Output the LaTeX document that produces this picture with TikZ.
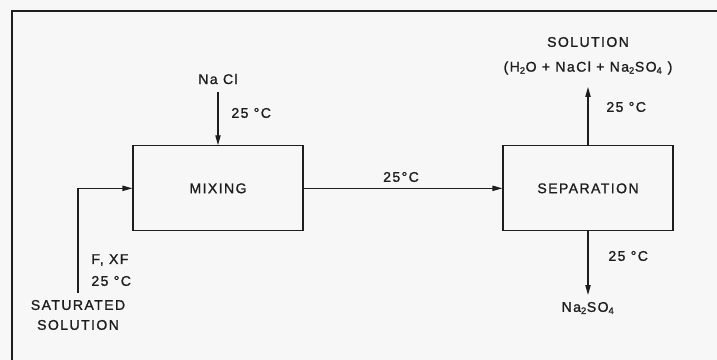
\documentclass[tikz,border=0pt]{standalone}
\usepackage{fontspec}
\setmainfont[LetterSpace=10,FakeBold=1.2]{Liberation Sans}
\usepackage{xcolor}
\usetikzlibrary{arrows.meta}
\definecolor{PFInk}{HTML}{1E1E1E}
\definecolor{PFPaper}{HTML}{F7F7F7}

\begin{document}
\begin{tikzpicture}[x=1cm,y=1cm,
  unit/.style={draw=PFInk,line width=1pt,minimum width=5.10cm,minimum height=2.55cm,font=\fontsize{12}{14}\selectfont,text=PFInk},
  flow/.style={draw=PFInk,line width=1pt,-{Triangle[length=8.5pt,width=4.5pt]}},
  lbl/.style={font=\fontsize{12}{17}\selectfont,text=PFInk,inner sep=1pt}]
\path[use as bounding box,fill=PFPaper] (0,0) rectangle (21.51,10.80);
\draw[PFInk,line width=1pt] (0.36,0) -- (0.36,10.47) -- (21.51,10.47);
% process units
\node[unit] (mix) at (6.54,5.15) {MIXING};
\node[unit] (sep) at (17.64,5.15) {SEPARATION};
% salt feed
\node[lbl] (nacl) at (6.54,8.43) {Na Cl};
\coordinate (naclin) at (6.54,8.04);
\draw[flow] (naclin) -- (mix.north);
\node[lbl,anchor=west] (tnacl) at (6.90,7.41) {25 °C};
% saturated solution feed
\coordinate (feedin) at (2.34,2.01);
\draw[flow] (feedin) |- (mix.west);
\node[lbl,anchor=west] (fxf) at (2.70,3.00) {F, XF};
\node[lbl,anchor=west] (tfeed) at (2.70,2.37) {25 °C};
\node[lbl,align=center] (sat) at (2.34,1.35) {SATURATED\\SOLUTION};
% mixer to separator
\draw[flow] (mix.east) -- (sep.west);
\node[lbl] (tmid) at (12.03,5.49) {25°C};
% solution out
\coordinate (solout) at (17.64,8.19);
\draw[flow] (sep.north) -- (solout);
\node[lbl,anchor=west] (tsol) at (18.15,7.59) {25 °C};
\node[lbl] (sol) at (17.64,9.54) {SOLUTION};
\node[lbl] (solmix) at (17.64,8.76) {(H\textsubscript{2}O + NaCl + Na\textsubscript{2}SO\textsubscript{4} )};
% crystals out
\coordinate (crysout) at (17.64,1.95);
\draw[flow] (sep.south) -- (crysout);
\node[lbl,anchor=west] (tcrys) at (18.21,3.12) {25 °C};
\node[lbl] (crys) at (17.64,1.56) {Na\textsubscript{2}SO\textsubscript{4}};
\end{tikzpicture}
\end{document}
